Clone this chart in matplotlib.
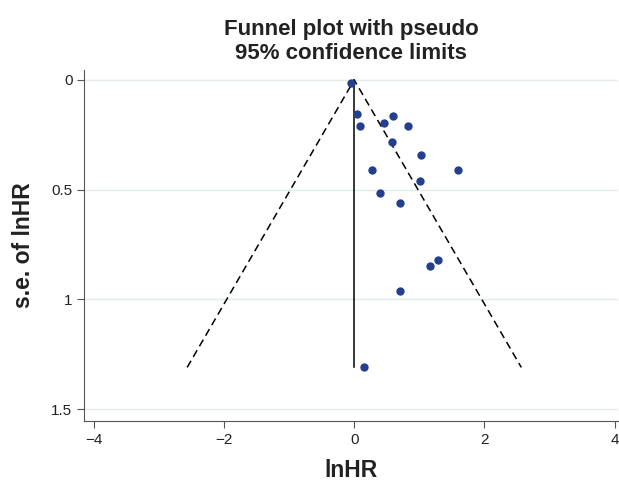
import numpy as np
import matplotlib
matplotlib.use('Agg')
import matplotlib.pyplot as plt

plt.rcParams['font.family'] = ['Liberation Sans', 'DejaVu Sans']

# Данные: логарифм HR и его стандартная ошибка
lnhr = [-0.05, 0.05, 0.09, 0.45, 0.59, 0.82, 0.58, 1.03, 0.27, 1.60,
        1.01, 0.40, 0.70, 1.16, 1.29, 0.70, 0.15]
se = [0.015, 0.157, 0.21, 0.198, 0.164, 0.21, 0.283, 0.344, 0.412, 0.41,
      0.46, 0.515, 0.56, 0.848, 0.822, 0.96, 1.31]
pooled = 0.0
xticks = [-4, -2, 0, 2, 4]
yticks = [0, 0.5, 1, 1.5]
yticklabels = ['0', '0.5', '1', '1.5']

fig = plt.figure(figsize=(6.19, 4.83), dpi=100)
ax = fig.add_axes([0.136, 0.128, 0.862, 0.727])

# Сетка
for y in yticks:
    ax.axhline(y, color='#e3ece9', lw=1, zorder=0)

# Псевдо 95% доверительные границы
max_se = max(se)
ax.plot([pooled - 1.96 * max_se, pooled, pooled + 1.96 * max_se],
        [max_se, 0, max_se], color='black', ls=(0, (5, 3)), lw=1.1)
ax.plot([pooled, pooled], [0, max_se], color='black', lw=1.1)

ax.scatter(lnhr, se, s=36, color='#233f8e', zorder=3, linewidths=0)

ax.set_xlim(-4.15, 4.05)
ax.set_ylim(1.555, -0.045)
ax.set_xticks(xticks)
ax.set_xticklabels(['\u22124', '\u22122', '0', '2', '4'])
ax.set_yticks(yticks)
ax.set_yticklabels(yticklabels)

for s in ['top', 'right']:
    ax.spines[s].set_visible(False)
for s in ['left', 'bottom']:
    ax.spines[s].set_color('#555555')
ax.tick_params(colors='#555555', labelcolor='#222222', labelsize=11, length=5)

ax.set_xlabel('lnHR', fontsize=16.5, fontweight='bold', color='#222222', labelpad=9)
ax.set_ylabel('s.e. of lnHR', fontsize=16.5, fontweight='bold', color='#222222', labelpad=12)
ax.set_title('Funnel plot with pseudo\n95% confidence limits', fontsize=16,
             fontweight='bold', color='#222222', pad=8, linespacing=1.2)

fig.savefig('out.png', dpi=100)
